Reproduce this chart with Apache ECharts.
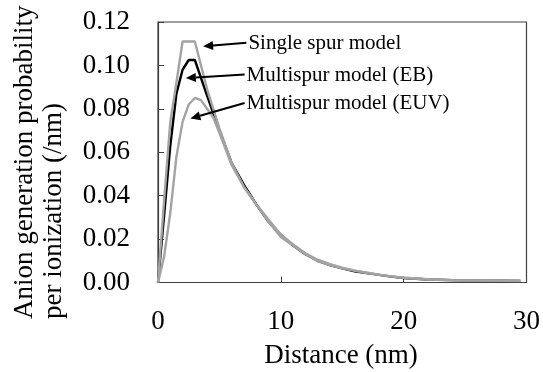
<!DOCTYPE html>
<html><head><meta charset="utf-8">
<script src="https://cdn.jsdelivr.net/npm/echarts@6/dist/echarts.min.js"></script>
<style>html,body{margin:0;padding:0;background:#fff}#c{width:543px;height:372px}</style>
</head><body><div id="c"></div>
<script>
// ---- data ----
const singleX = [0,0.5,1,1.5,2,3,4,5,6,7,8,9,10,11,12,13,14,15,16,17,18,19,20,22,24,26,28,29.5];
const singleY = [0,0.038,0.074,0.092,0.111,0.111,0.089,0.071,0.055,0.044,0.036,0.028,0.021,0.017,0.013,0.0098,0.008,0.0065,0.0055,0.0045,0.0035,0.0028,0.0022,0.0014,0.001,0.0009,0.0008,0.0007];
const ebX = [0,0.5,1,1.5,2,2.5,3,4,5,6,7,8,9,10,11,12,13,14,15,16,17,18,19,20,22,24,26,28,29.5];
const ebY = [0,0.031,0.063,0.087,0.098,0.1025,0.1025,0.086,0.070,0.055,0.045,0.036,0.028,0.022,0.017,0.013,0.010,0.008,0.0065,0.0052,0.0043,0.0035,0.0027,0.0021,0.0014,0.0011,0.0009,0.0008,0.0007];
const euvX = [0,0.5,1,1.5,2,2.5,3,3.5,4,4.5,5,6,7,8,9,10,11,12,13,14,15,16,17,18,19,20,22,24,26,28,29.5];
const euvY = [0,0.012,0.032,0.058,0.074,0.082,0.085,0.084,0.080,0.076,0.069,0.054,0.044,0.036,0.029,0.022,0.0175,0.0135,0.0105,0.0085,0.0068,0.0055,0.0045,0.0036,0.0028,0.0022,0.0015,0.0011,0.0009,0.0008,0.0008];
const xTicks = [0,10,20,30];
const yTicks = [0,0.02,0.04,0.06,0.08,0.10,0.12];
const labels = ['Single spur model','Multispur model (EB)','Multispur model (EUV)'];
const arrowFrom = [[7.2,0.1104],[7.05,0.0958],[7.05,0.0827]];
const arrowTo = [[3.67,0.1088],[2.27,0.0942],[2.64,0.0755]];
const yName = ['Anion generation probability','per ionization (/nm)'];
const xName = 'Distance (nm)';

const pairs = (xs, ys) => xs.map((x,i)=>[x, ys[i]]);
const FONT = '"Liberation Serif","Times New Roman",serif';
const chart = echarts.init(document.getElementById('c'), null, {renderer:'canvas'});
const GRAY = '#a3a3a3';
const lineSeries = (name, data, color) => ({
  name, type:'line', data, showSymbol:false, symbol:'none', smooth:false,
  lineStyle:{color, width:2.4}, itemStyle:{color}, animation:false, z:2
});
chart.setOption({
  animation:false,
  grid:{left:158, right:15, top:22, bottom:89.5, show:true, borderColor:'#404040', borderWidth:1.2},
  xAxis:{type:'value', min:xTicks[0], max:xTicks[xTicks.length-1], interval:10,
    axisLine:{lineStyle:{color:'#404040', width:1.2}},
    axisTick:{inside:true, length:6, lineStyle:{color:'#404040'}},
    splitLine:{show:false},
    axisLabel:{fontFamily:FONT, fontSize:27, color:'#000', margin:26}},
  yAxis:{type:'value', min:yTicks[0], max:yTicks[yTicks.length-1], interval:0.02,
    axisLine:{show:true, lineStyle:{color:'#404040', width:1.2}},
    axisTick:{show:true, inside:true, length:6, lineStyle:{color:'#404040'}},
    splitLine:{show:false},
    axisLabel:{fontFamily:FONT, fontSize:27, color:'#000', margin:28, formatter:v=>v.toFixed(2)}},
  series:[
    lineSeries('EB', pairs(ebX, ebY), '#000'),
    lineSeries('Single', pairs(singleX, singleY), GRAY),
    lineSeries('EUV', pairs(euvX, euvY), GRAY)
  ]
});
const g = [];
labels.forEach((t,i)=>{
  const p0 = chart.convertToPixel({gridIndex:0}, arrowFrom[i]);
  const p1 = chart.convertToPixel({gridIndex:0}, arrowTo[i]);
  const ang = Math.atan2(p1[1]-p0[1], p1[0]-p0[0]);
  const hl = 10, hw = 4.5;
  const bx = p1[0]-hl*Math.cos(ang), by = p1[1]-hl*Math.sin(ang);
  g.push({type:'line', shape:{x1:p0[0], y1:p0[1], x2:bx, y2:by}, style:{stroke:'#000', lineWidth:2}, z:10});
  g.push({type:'polygon', shape:{points:[[p1[0],p1[1]],[bx+hw*Math.sin(ang), by-hw*Math.cos(ang)],[bx-hw*Math.sin(ang), by+hw*Math.cos(ang)]]}, style:{fill:'#000'}, z:10});
  g.push({type:'text', x:p0[0]+2, y:p0[1]+1, style:{text:t, font:'21px '+FONT, fill:'#000', textAlign:'left', textVerticalAlign:'middle'}, z:10});
});
g.push({type:'text', x:25, y:319, rotation:Math.PI/2, style:{text:yName[0], font:'27px '+FONT, fill:'#000', textAlign:'left', textVerticalAlign:'middle'}});
g.push({type:'text', x:54, y:319, rotation:Math.PI/2, style:{text:yName[1], font:'27px '+FONT, fill:'#000', textAlign:'left', textVerticalAlign:'middle'}});
g.push({type:'text', x:341, y:356, style:{text:xName, font:'27px '+FONT, fill:'#000', textAlign:'center', textVerticalAlign:'middle'}});
chart.setOption({graphic:g});
</script></body></html>
